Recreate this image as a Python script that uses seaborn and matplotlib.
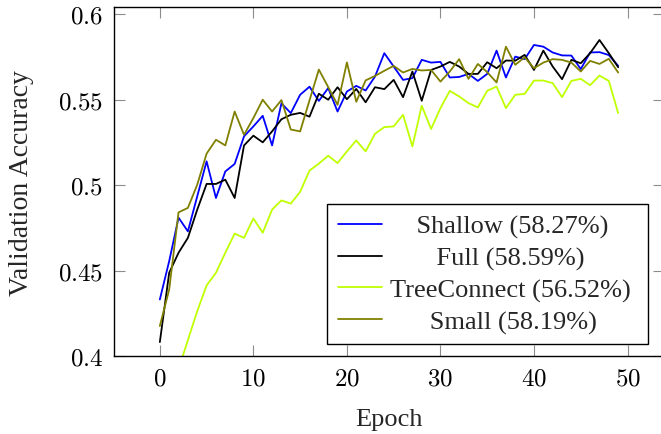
import numpy as np
import pandas as pd
import matplotlib
matplotlib.use("Agg")
import matplotlib.pyplot as plt
import seaborn as sns
from matplotlib.ticker import FuncFormatter, FixedLocator
from matplotlib.lines import Line2D
from matplotlib.font_manager import FontProperties

epochs = list(range(50))

shallow = [0.4332, 0.4556, 0.4810, 0.4730, 0.4935, 0.5139, 0.4925, 0.5080, 0.5124, 0.5285,
           0.5343, 0.5405, 0.5232, 0.5478, 0.5421, 0.5528, 0.5575, 0.5492, 0.5567, 0.5430,
           0.5547, 0.5580, 0.5553, 0.5634, 0.5771, 0.5693, 0.5615, 0.5625, 0.5732, 0.5716,
           0.5720, 0.5629, 0.5632, 0.5650, 0.5609, 0.5650, 0.5786, 0.5629, 0.5751, 0.5736,
           0.5819, 0.5809, 0.5775, 0.5758, 0.5757, 0.5678, 0.5775, 0.5777, 0.5760, 0.5697]

full = [0.4083, 0.4488, 0.4605, 0.4692, 0.4857, 0.5007, 0.5007, 0.5032, 0.4925, 0.5232,
        0.5289, 0.5250, 0.5314, 0.5385, 0.5411, 0.5422, 0.5400, 0.5534, 0.5499, 0.5572,
        0.5502, 0.5562, 0.5484, 0.5572, 0.5561, 0.5615, 0.5514, 0.5664, 0.5493, 0.5673,
        0.5693, 0.5720, 0.5693, 0.5650, 0.5650, 0.5718, 0.5683, 0.5728, 0.5727, 0.5761,
        0.5673, 0.5786, 0.5693, 0.5619, 0.5732, 0.5712, 0.5771, 0.5848, 0.5771, 0.5689]

treeconnect = [0.3450, 0.3750, 0.3924, 0.4095, 0.4264, 0.4414, 0.4488, 0.4605, 0.4717, 0.4692,
               0.4805, 0.4722, 0.4857, 0.4911, 0.4892, 0.4961, 0.5085, 0.5126, 0.5172, 0.5129,
               0.5197, 0.5261, 0.5197, 0.5300, 0.5339, 0.5343, 0.5411, 0.5226, 0.5464, 0.5328,
               0.5450, 0.5551, 0.5518, 0.5479, 0.5454, 0.5551, 0.5576, 0.5450, 0.5528, 0.5533,
               0.5611, 0.5611, 0.5596, 0.5514, 0.5609, 0.5621, 0.5584, 0.5640, 0.5609, 0.5421]

small = [0.4177, 0.4390, 0.4841, 0.4867, 0.5003, 0.5184, 0.5265, 0.5232, 0.5430, 0.5294,
         0.5392, 0.5499, 0.5430, 0.5497, 0.5325, 0.5314, 0.5495, 0.5675, 0.5573, 0.5469,
         0.5717, 0.5487, 0.5612, 0.5638, 0.5668, 0.5697, 0.5658, 0.5679, 0.5670, 0.5673,
         0.5605, 0.5664, 0.5736, 0.5621, 0.5708, 0.5660, 0.5600, 0.5809, 0.5703, 0.5747,
         0.5683, 0.5716, 0.5736, 0.5732, 0.5716, 0.5664, 0.5726, 0.5708, 0.5738, 0.5658]

series_names = ["Shallow (58.27%)", "Full (58.59%)", "TreeConnect (56.52%)", "Small (58.19%)"]
series_values = [shallow, full, treeconnect, small]
series_colors = ["#0000ff", "#000000", "#bfff00", "#808000"]

x_ticks = [0, 10, 20, 30, 40, 50]
y_ticks = [0.4, 0.45, 0.5, 0.55, 0.6]

df = pd.DataFrame({
    "Epoch": epochs * len(series_names),
    "Accuracy": [v for s in series_values for v in s],
    "Model": [n for n in series_names for _ in epochs],
})

sns.set_theme(style="white")
plt.rcParams["font.family"] = ["Liberation Serif", "DejaVu Serif"]
plt.rcParams["mathtext.fontset"] = "cm"

W, H = 661, 435
fig = plt.figure(figsize=(W / 100, H / 100), dpi=100)
ax = fig.add_axes([114 / W, 1 - 357.3 / H, (664 - 114) / W, (357.3 - 8.3) / H])

sns.lineplot(data=df, x="Epoch", y="Accuracy", hue="Model", hue_order=series_names,
             palette=dict(zip(series_names, series_colors)), linewidth=1.3,
             ax=ax, legend=False, estimator=None, sort=False)

ax.set_xlim(-4.9, 53.9)
ax.set_ylim(0.4, 0.6039)

ax.xaxis.set_major_locator(FixedLocator(x_ticks))
ax.yaxis.set_major_locator(FixedLocator(y_ticks))
ax.xaxis.set_major_formatter(FuncFormatter(lambda v, p: f"${v:g}$"))
ax.yaxis.set_major_formatter(FuncFormatter(lambda v, p: f"${v:g}$"))

ax.tick_params(axis="both", which="major", direction="in", length=8, width=0.8,
               color="#8c8c8c", labelsize=18, labelcolor="black",
               top=True, right=True, bottom=True, left=True)
ax.tick_params(axis="y", pad=8)
ax.tick_params(axis="x", pad=8)

for sp in ax.spines.values():
    sp.set_visible(True)
    sp.set_color("black")
    sp.set_linewidth(1.0)

ax.set_xlabel("Epoch", fontsize=19, labelpad=13.5)
ax.set_ylabel("Validation Accuracy", fontsize=20, labelpad=17)

# legend with centred labels
renderer = fig.canvas.get_renderer()
fp = FontProperties(family=["Liberation Serif"], size=19)
widths = [renderer.get_text_width_height_descent(n, fp, ismath=False)[0] for n in series_names]
sp_w = renderer.get_text_width_height_descent("a a", fp, ismath=False)[0] - \
       renderer.get_text_width_height_descent("aa", fp, ismath=False)[0]
maxw = max(widths)
labels = []
for n, w in zip(series_names, widths):
    k = int(round((maxw - w) / 2 / sp_w))
    labels.append(" " * k + n + " " * k)
handles = [Line2D([], [], color=c, linewidth=1.3) for c in series_colors]
leg = fig.legend(handles, labels, loc="upper left",
                 bbox_to_anchor=(327 / W, 1 - 205 / H), bbox_transform=fig.transFigure,
                 prop=fp, frameon=True, fancybox=False, framealpha=1,
                 edgecolor="black", handlelength=1.7, handletextpad=0.3,
                 borderpad=0.4, labelspacing=0.3, borderaxespad=0)
leg.get_frame().set_linewidth(1.0)

fig.savefig("out.png", dpi=100)
